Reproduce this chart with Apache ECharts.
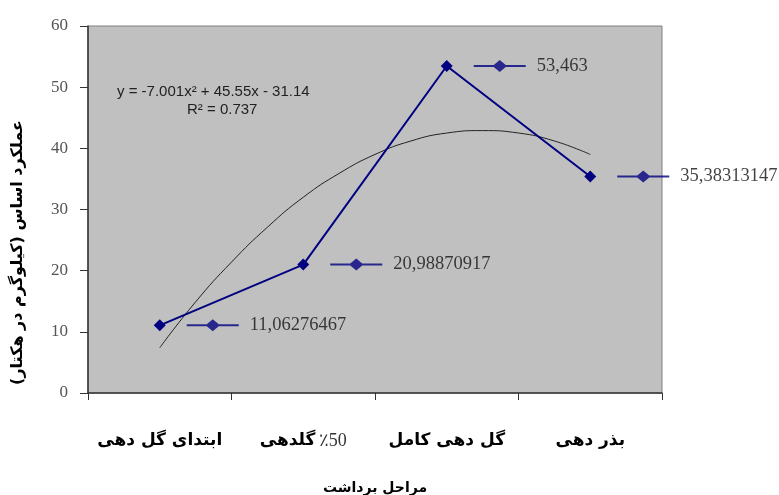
<!DOCTYPE html>
<html>
<head>
<meta charset="utf-8">
<script src="https://cdn.jsdelivr.net/npm/echarts@6/dist/echarts.min.js"></script>
<style>
html, body { margin: 0; padding: 0; background: #fff; }
#chart { width: 779px; height: 495px; }
</style>
</head>
<body>
<div id="chart"></div>
<script>
// مراحل برداشت (categories)
var stages = ['ابتدای گل دهی', '50٪ گلدهی', 'گل دهی کامل', 'بذر دهی'];
// عملکرد
var yieldValues = [11.06276467, 20.98870917, 53.463, 35.38313147];
// trend line
var trendX = [1, 1.25, 1.5, 1.75, 2, 2.25, 2.5, 2.75, 3, 3.25, 3.5, 3.75, 4];
var trendY = [7.4, 14.9, 21.4, 27.1, 32.0, 35.9, 39.0, 41.2, 42.5, 42.9, 42.5, 41.2, 39.0];
var yTicks = [0, 10, 20, 30, 40, 50, 60];

var navy = '#000080';
//legend key: line + diamond
var keyPath = 'path://M0,5 H20 L26,0 L32,5 H52 V7 H32 L26,12 L20,7 H0 Z';

function stageLabel(v) {
    //keep digits in serif, words in bold
    if (v.indexOf('50') >= 0) {
        return '{a|گلدهی} {n|٪50}';
    }
    return '{a|' + v + '}';
}

var chart = echarts.init(document.getElementById('chart'));
var option = {
    animation: false,
    backgroundColor: '#fff',
    grid: {
        left: 88, right: 117, top: 26, bottom: 102,
        outerBoundsMode: 'none',
        containLabel: false,
        show: true,
        backgroundColor: '#c0c0c0',
        borderColor: '#808080',
        borderWidth: 1
    },
    xAxis: [{
        type: 'category',
        data: stages,
        name: 'مراحل برداشت',
        nameLocation: 'middle',
        nameGap: 88,
        nameTextStyle: { fontFamily: 'DejaVu Sans', fontWeight: 'bold', fontSize: 14, color: '#000' },
        axisLine: { lineStyle: { color: '#333', width: 1.5 } },
        axisTick: { show: true, length: 7, lineStyle: { color: '#333' } },
        axisLabel: {
            margin: 39,
            formatter: stageLabel,
            rich: {
                a: { fontFamily: 'DejaVu Sans', fontWeight: 'bold', fontSize: 17, color: '#000' },
                n: { fontFamily: 'Liberation Serif', fontSize: 18, color: '#333' }
            }
        }
    }, {
        type: 'value',
        min: 0.5,
        max: 4.5,
        show: false
    }],
    yAxis: {
        type: 'value',
        min: yTicks[0],
        max: yTicks[yTicks.length - 1],
        interval: 10,
        name: 'عملکرد اساس (کیلوگرم در هکتار)\u200F',
        nameLocation: 'middle',
        nameRotate: 90,
        nameGap: 62,
        nameTextStyle: {
            fontFamily: 'DejaVu Sans', fontWeight: 'bold', fontSize: 16, color: '#000',
            padding: [0, 86, 0, 0]
        },
        axisLine: { show: true, lineStyle: { color: '#333', width: 1.5 } },
        axisTick: { show: true, length: 8, lineStyle: { color: '#333' } },
        splitLine: { show: false },
        axisLabel: {
            margin: 20,
            fontFamily: 'Liberation Serif',
            fontSize: 17,
            color: '#555'
        }
    },
    graphic: [{
        type: 'text',
        left: 117,
        top: 84,
        style: {
            text: 'y = -7.001x² + 45.55x - 31.14',
            font: '15px "Liberation Sans"',
            fill: '#222'
        }
    }, {
        type: 'text',
        left: 187,
        top: 102,
        style: {
            text: 'R² = 0.737',
            font: '15px "Liberation Sans"',
            fill: '#222'
        }
    }],
    series: [{
        type: 'line',
        xAxisIndex: 1,
        data: trendX.map(function (x, i) { return [x, trendY[i]]; }),
        smooth: true,
        symbol: 'none',
        lineStyle: { color: '#222', width: 1 },
        z: 2
    }, {
        type: 'line',
        data: yieldValues,
        symbol: 'diamond',
        symbolSize: 12,
        itemStyle: { color: navy },
        lineStyle: { color: navy, width: 2 },
        z: 3
    }, {
        type: 'scatter',
        data: yieldValues,
        symbol: keyPath,
        symbolSize: [52, 12],
        symbolOffset: [53, 0],
        itemStyle: { color: navy },
        label: {
            show: true,
            position: 'right',
            distance: 11,
            fontFamily: 'Liberation Serif',
            fontSize: 18.5,
            color: '#111',
            formatter: function (p) { return String(p.value).replace('.', ','); }
        },
        z: 3
    }]
};
chart.setOption(option);
</script>
</body>
</html>
